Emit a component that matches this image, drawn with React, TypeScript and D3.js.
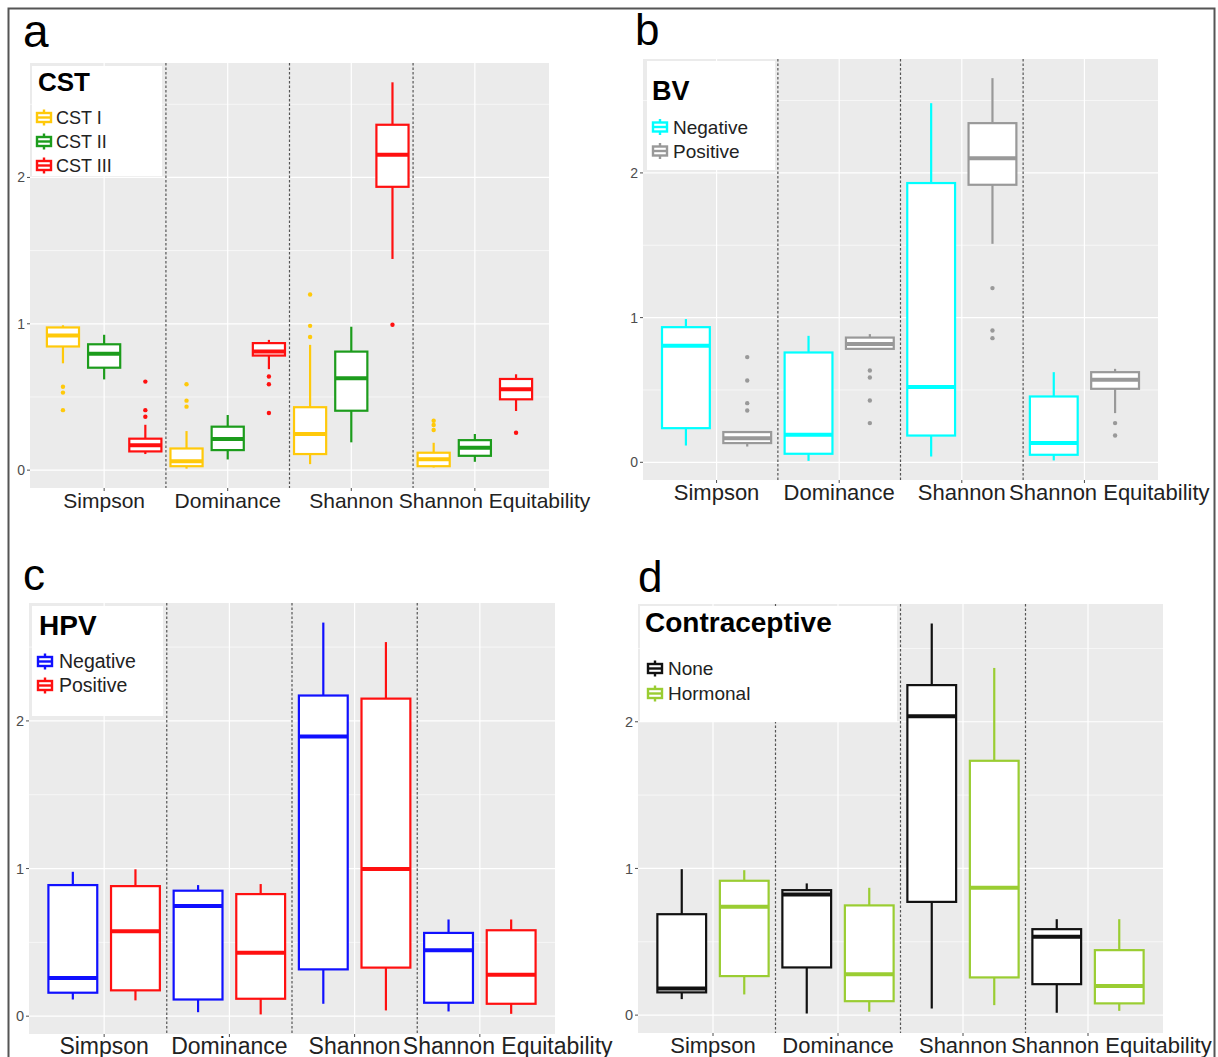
import React from "react";
import * as d3 from "d3";

// Diversity indices on the x axis
const CATEGORIES = ["Simpson", "Dominance", "Shannon", "Shannon Equitability"];
const Y_TICKS = [0, 1, 2];
const Y_MINOR = [0.5, 1.5, 2.5];

// Box statistics per index: [lower whisker, Q1, median, Q3, upper whisker]
// --- a: community state type
const CST_I_BOXES = [
  [0.73, 0.845, 0.92, 0.975, 0.99],
  [0.01, 0.027, 0.06, 0.148, 0.267],
  [0.041, 0.11, 0.247, 0.43, 0.856],
  [0.018, 0.027, 0.075, 0.119, 0.187],
];
const CST_I_OUTLIERS = [[0.57, 0.53, 0.41], [0.587, 0.475, 0.434], [1.2, 0.986, 0.91], [0.338, 0.308, 0.274]];
const CST_II_BOXES = [
  [0.62, 0.7, 0.795, 0.86, 0.925],
  [0.073, 0.137, 0.212, 0.297, 0.377],
  [0.19, 0.406, 0.628, 0.81, 0.98],
  [0.057, 0.098, 0.153, 0.205, 0.247],
];
const CST_II_OUTLIERS = [[], [], [], []];
const CST_III_BOXES = [
  [0.11, 0.128, 0.17, 0.215, 0.31],
  [0.69, 0.783, 0.81, 0.868, 0.89],
  [1.443, 1.936, 2.155, 2.36, 2.65],
  [0.404, 0.484, 0.553, 0.623, 0.655],
];
const CST_III_OUTLIERS = [[0.605, 0.41, 0.365], [0.64, 0.587, 0.39], [0.993], [0.256]];

// --- b: bacterial vaginosis
const BV_NEG_BOXES = [
  [0.116, 0.236, 0.805, 0.934, 0.99],
  [0.01, 0.059, 0.19, 0.759, 0.874],
  [0.04, 0.185, 0.52, 1.93, 2.482],
  [0.013, 0.052, 0.133, 0.455, 0.623],
];
const BV_NEG_OUTLIERS = [[], [], [], []];
const BV_POS_BOXES = [
  [0.109, 0.133, 0.167, 0.209, 0.215],
  [0.78, 0.784, 0.817, 0.862, 0.886],
  [1.51, 1.918, 2.102, 2.344, 2.655],
  [0.34, 0.508, 0.57, 0.623, 0.646],
];
const BV_POS_OUTLIERS = [[0.727, 0.565, 0.409, 0.358], [0.635, 0.586, 0.427, 0.271], [1.204, 0.911, 0.858], [0.271, 0.185]];

// --- c: HPV status
const HPV_NEG_BOXES = [
  [0.113, 0.159, 0.258, 0.888, 0.978],
  [0.027, 0.113, 0.747, 0.85, 0.888],
  [0.084, 0.317, 1.895, 2.172, 2.666],
  [0.032, 0.091, 0.446, 0.564, 0.655],
];
const HPV_POS_BOXES = [
  [0.107, 0.175, 0.575, 0.881, 0.995],
  [0.012, 0.118, 0.43, 0.827, 0.895],
  [0.039, 0.329, 0.997, 2.151, 2.534],
  [0.016, 0.084, 0.281, 0.582, 0.655],
];
const NO_OUTLIERS = [[], [], [], []];

// --- d: contraceptive use
const NONE_BOXES = [
  [0.109, 0.155, 0.182, 0.688, 0.995],
  [0.011, 0.325, 0.823, 0.852, 0.898],
  [0.045, 0.772, 2.038, 2.25, 2.67],
  [0.016, 0.211, 0.534, 0.586, 0.654],
];
const HORMONAL_BOXES = [
  [0.141, 0.266, 0.738, 0.916, 0.988],
  [0.023, 0.095, 0.279, 0.748, 0.868],
  [0.068, 0.257, 0.868, 1.734, 2.367],
  [0.029, 0.08, 0.198, 0.443, 0.654],
];

type Group = { name: string; color: string; boxes: number[][]; outliers: number[][] };

const PANELS = [
  {
    letter: "a", letterX: 23, letterY: 47, letterSize: 46,
    plot: { left: 30, top: 63, right: 549, bottom: 488 },
    labelSize: 21, tickSize: 14,
    legend: { title: "CST", x: 32, y: 66, w: 130, h: 110, titleX: 38, titleY: 91, titleSize: 26,
      keyX: 44, textX: 56, itemY: [124, 148, 172], itemSize: 18 },
    groups: [
      { name: "CST I", color: "#FFC90A", boxes: CST_I_BOXES, outliers: CST_I_OUTLIERS },
      { name: "CST II", color: "#1C9C1C", boxes: CST_II_BOXES, outliers: CST_II_OUTLIERS },
      { name: "CST III", color: "#FF1010", boxes: CST_III_BOXES, outliers: CST_III_OUTLIERS },
    ] as Group[],
  },
  {
    letter: "b", letterX: 635, letterY: 45, letterSize: 44,
    plot: { left: 643, top: 59, right: 1158, bottom: 480 },
    labelSize: 22, tickSize: 14,
    legend: { title: "BV", x: 647, y: 61, w: 128, h: 109, titleX: 652, titleY: 100, titleSize: 27,
      keyX: 660, textX: 673, itemY: [133.5, 157.5], itemSize: 19 },
    groups: [
      { name: "Negative", color: "#00FFFF", boxes: BV_NEG_BOXES, outliers: BV_NEG_OUTLIERS },
      { name: "Positive", color: "#999999", boxes: BV_POS_BOXES, outliers: BV_POS_OUTLIERS },
    ] as Group[],
  },
  {
    letter: "c", letterX: 23, letterY: 590, letterSize: 44,
    plot: { left: 29, top: 603, right: 555, bottom: 1034 },
    labelSize: 23, tickSize: 14.5,
    legend: { title: "HPV", x: 32, y: 606, w: 131, h: 110, titleX: 39, titleY: 635, titleSize: 28,
      keyX: 45, textX: 59, itemY: [668, 692], itemSize: 19.5 },
    groups: [
      { name: "Negative", color: "#1010FF", boxes: HPV_NEG_BOXES, outliers: NO_OUTLIERS },
      { name: "Positive", color: "#FF1010", boxes: HPV_POS_BOXES, outliers: NO_OUTLIERS },
    ] as Group[],
  },
  {
    letter: "d", letterX: 638, letterY: 592, letterSize: 44,
    plot: { left: 638, top: 604, right: 1163, bottom: 1033 },
    labelSize: 22, tickSize: 14.5,
    legend: { title: "Contraceptive", x: 640, y: 606, w: 257, h: 116, titleX: 645, titleY: 632, titleSize: 28,
      keyX: 655, textX: 668, itemY: [675, 700], itemSize: 19 },
    groups: [
      { name: "None", color: "#111111", boxes: NONE_BOXES, outliers: NO_OUTLIERS },
      { name: "Hormonal", color: "#9ACD32", boxes: HORMONAL_BOXES, outliers: NO_OUTLIERS },
    ] as Group[],
  },
];

const FONT = "'Liberation Sans', Arial, Helvetica, sans-serif";

function LegendKey({ cx, cy, color }: { cx: number; cy: number; color: string }) {
  return (
    <g>
      <line x1={cx} x2={cx} y1={cy - 8} y2={cy + 8} stroke={color} strokeWidth={2.4} />
      <rect x={cx - 7} y={cy - 4.5} width={14} height={9} fill="white" stroke={color} strokeWidth={2.4} />
      <line x1={cx - 7} x2={cx + 7} y1={cy} y2={cy} stroke={color} strokeWidth={2.4} />
    </g>
  );
}

function Panel({ cfg }: { cfg: (typeof PANELS)[number] }) {
  const { plot, groups, legend } = cfg;
  // y domain: data range expanded by 5% on each side
  const allValues: number[] = [];
  groups.forEach((g) => {
    g.boxes.forEach((b) => allValues.push(...b));
    g.outliers.forEach((o) => allValues.push(...o));
  });
  const [lo, hi] = d3.extent(allValues) as [number, number];
  const pad = (hi - lo) * 0.05;
  const y = d3.scaleLinear().domain([lo - pad, hi + pad]).range([plot.bottom, plot.top]);
  const x = d3.scalePoint<string>().domain(CATEGORIES).range([plot.left, plot.right]).padding(0.6);
  const step = x.step();
  const n = groups.length;
  const slot = step / n;
  const bw = slot * 0.78;
  const separators = d3.range(1, CATEGORIES.length).map((i) => (x(CATEGORIES[i - 1])! + x(CATEGORIES[i])!) / 2);
  const inDomain = (v: number) => v >= y.domain()[0] && v <= y.domain()[1];
  const last = CATEGORIES.length - 1;

  return (
    <g>
      <text x={cfg.letterX} y={cfg.letterY} fontSize={cfg.letterSize} fontFamily={FONT} fill="#000">
        {cfg.letter}
      </text>
      <rect x={plot.left} y={plot.top} width={plot.right - plot.left} height={plot.bottom - plot.top} fill="#EBEBEB" />
      {Y_MINOR.filter(inDomain).map((v) => (
        <line key={"mn" + v} x1={plot.left} x2={plot.right} y1={y(v)} y2={y(v)} stroke="#FFFFFF" strokeWidth={0.6} />
      ))}
      {Y_TICKS.map((v) => (
        <line key={"mj" + v} x1={plot.left} x2={plot.right} y1={y(v)} y2={y(v)} stroke="#FFFFFF" strokeWidth={1.2} />
      ))}
      {CATEGORIES.map((c) => (
        <line key={"vg" + c} x1={x(c)} x2={x(c)} y1={plot.top} y2={plot.bottom} stroke="#FFFFFF" strokeWidth={1.2} />
      ))}
      {separators.map((sx, i) => (
        <line key={"sep" + i} x1={sx} x2={sx} y1={plot.top} y2={plot.bottom} stroke="#555555" strokeWidth={1.2} strokeDasharray="2.5,2" />
      ))}
      {groups.map((g, gi) =>
        CATEGORIES.map((c, ci) => {
          const [lw, q1, med, q3, uw] = g.boxes[ci];
          const cx = x(c)! + (gi - (n - 1) / 2) * slot;
          return (
            <g key={g.name + c}>
              <line x1={cx} x2={cx} y1={y(q3)} y2={y(uw)} stroke={g.color} strokeWidth={2.2} />
              <line x1={cx} x2={cx} y1={y(q1)} y2={y(lw)} stroke={g.color} strokeWidth={2.2} />
              <rect x={cx - bw / 2} y={y(q3)} width={bw} height={y(q1) - y(q3)} fill="#FFFFFF" stroke={g.color} strokeWidth={2.2} />
              <line x1={cx - bw / 2} x2={cx + bw / 2} y1={y(med)} y2={y(med)} stroke={g.color} strokeWidth={4} />
              {g.outliers[ci].map((o, oi) => (
                <circle key={oi} cx={cx} cy={y(o)} r={2.2} fill={g.color} />
              ))}
            </g>
          );
        })
      )}
      {/* axes */}
      {Y_TICKS.map((v) => (
        <g key={"yt" + v}>
          <line x1={plot.left - 3} x2={plot.left} y1={y(v)} y2={y(v)} stroke="#4D4D4D" strokeWidth={1} />
          <text x={plot.left - 5} y={y(v)} dy="0.36em" textAnchor="end" fontSize={cfg.tickSize} fontFamily={FONT} fill="#4D4D4D">
            {v}
          </text>
        </g>
      ))}
      {CATEGORIES.map((c, ci) => {
        // the long last label runs on from the previous one, starting just after it
        const isLast = ci === last;
        const lx = isLast ? x(CATEGORIES[last - 1])! + step * 0.385 : x(c)!;
        return (
          <g key={"xt" + c}>
            <line x1={x(c)} x2={x(c)} y1={plot.bottom} y2={plot.bottom + 3} stroke="#4D4D4D" strokeWidth={1} />
            <text x={lx} y={plot.bottom + 20} textAnchor={isLast ? "start" : "middle"} fontSize={cfg.labelSize} fontFamily={FONT} fill="#222222">
              {c}
            </text>
          </g>
        );
      })}
      {/* legend */}
      <rect x={legend.x} y={legend.y} width={legend.w} height={legend.h} fill="#FFFFFF" />
      <text x={legend.titleX} y={legend.titleY} fontSize={legend.titleSize} fontWeight="bold" fontFamily={FONT} fill="#000">
        {legend.title}
      </text>
      {groups.map((g, gi) => (
        <g key={"lg" + g.name}>
          <LegendKey cx={legend.keyX} cy={legend.itemY[gi] - 6.5} color={g.color} />
          <text x={legend.textX} y={legend.itemY[gi]} fontSize={legend.itemSize} fontFamily={FONT} fill="#222222">
            {g.name}
          </text>
        </g>
      ))}
    </g>
  );
}

export default function App() {
  return (
    <svg
      width={1218}
      height={1057}
      viewBox="0 0 1218 1057"
      style={{ position: "absolute", left: 0, top: 0, background: "#FFFFFF" }}
    >
      <rect x={0} y={0} width={1218} height={1057} fill="#FFFFFF" />
      <rect x={8.5} y={8.5} width={1206} height={1065} fill="none" stroke="#555555" strokeWidth={2} />
      {PANELS.map((p) => (
        <Panel key={p.letter} cfg={p} />
      ))}
    </svg>
  );
}
